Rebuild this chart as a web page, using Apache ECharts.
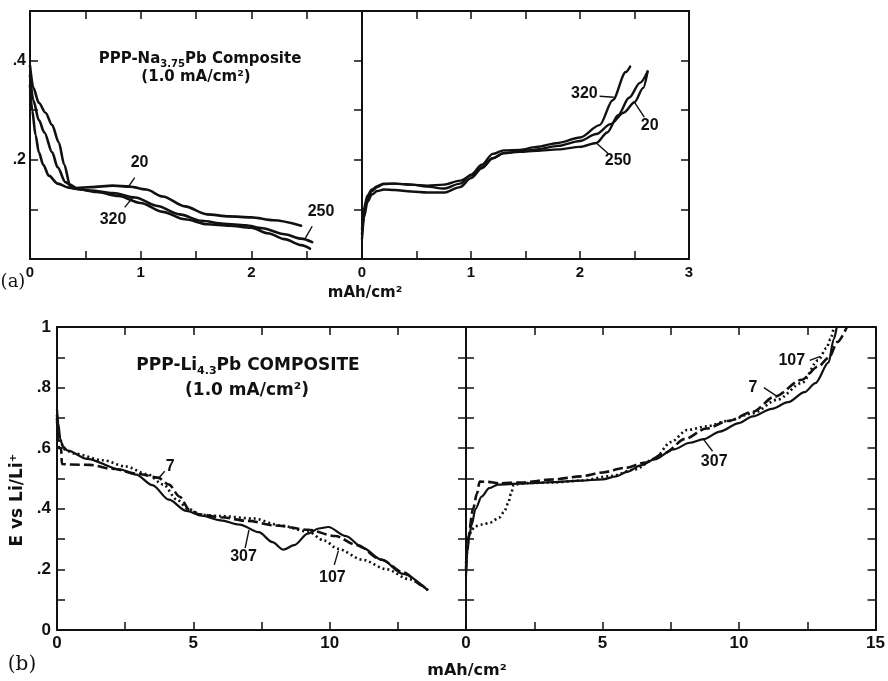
<!DOCTYPE html>
<html><head><meta charset="utf-8">
<script src="https://cdn.jsdelivr.net/npm/echarts/dist/echarts.min.js"></script>
<style>html,body{margin:0;padding:0;background:#fff}#c{width:888px;height:681px}</style>
</head><body><div id="c"></div>
<script>
// ---------- (a) PPP-Na3.75Pb : discharge (left half) ----------
const aDisX20  = [0, 0.03, 0.08, 0.14, 0.2, 0.26, 0.31, 0.36, 0.42, 0.55, 0.75, 0.9, 1.05, 1.2, 1.4, 1.6, 1.8, 2.0, 2.2, 2.45];
const aDisY20  = [0.39, 0.345, 0.315, 0.295, 0.27, 0.235, 0.19, 0.15, 0.143, 0.145, 0.148, 0.146, 0.14, 0.126, 0.106, 0.09, 0.086, 0.084, 0.078, 0.067];
const aDisX250 = [0, 0.03, 0.08, 0.13, 0.2, 0.25, 0.32, 0.4, 0.55, 0.75, 0.95, 1.15, 1.35, 1.55, 1.75, 1.95, 2.1, 2.3, 2.45, 2.55];
const aDisY250 = [0.37, 0.32, 0.28, 0.255, 0.215, 0.185, 0.155, 0.142, 0.138, 0.133, 0.124, 0.107, 0.09, 0.077, 0.071, 0.068, 0.062, 0.05, 0.041, 0.034];
const aDisX320 = [0, 0.02, 0.05, 0.08, 0.12, 0.17, 0.25, 0.35, 0.45, 0.6, 0.8, 1.0, 1.2, 1.4, 1.6, 1.8, 2.0, 2.15, 2.3, 2.45, 2.53];
const aDisY320 = [0.35, 0.3, 0.25, 0.215, 0.19, 0.168, 0.152, 0.144, 0.14, 0.135, 0.127, 0.113, 0.095, 0.08, 0.07, 0.067, 0.063, 0.052, 0.04, 0.028, 0.021];
// ---------- (a) charge (right half) ----------
const aChgX20  = [0, 0.02, 0.05, 0.09, 0.14, 0.2, 0.3, 0.45, 0.6, 0.75, 0.9, 1.0, 1.1, 1.2, 1.3, 1.45, 1.6, 1.8, 2.0, 2.15, 2.28, 2.4, 2.5, 2.58, 2.62];
const aChgY20  = [0.05, 0.095, 0.122, 0.137, 0.145, 0.151, 0.152, 0.15, 0.148, 0.15, 0.158, 0.168, 0.185, 0.203, 0.213, 0.217, 0.221, 0.228, 0.238, 0.252, 0.272, 0.295, 0.316, 0.345, 0.378];
const aChgX250 = [0, 0.02, 0.05, 0.09, 0.14, 0.2, 0.3, 0.45, 0.6, 0.75, 0.9, 1.0, 1.1, 1.2, 1.3, 1.45, 1.6, 1.8, 2.0, 2.15, 2.25, 2.35, 2.45, 2.55, 2.62];
const aChgY250 = [0.04, 0.085, 0.115, 0.13, 0.137, 0.14, 0.139, 0.136, 0.134, 0.134, 0.145, 0.163, 0.183, 0.203, 0.214, 0.216, 0.218, 0.221, 0.226, 0.234, 0.255, 0.29, 0.325, 0.355, 0.378];
const aChgX320 = [0, 0.02, 0.05, 0.09, 0.14, 0.2, 0.3, 0.45, 0.6, 0.75, 0.9, 1.0, 1.1, 1.2, 1.3, 1.45, 1.6, 1.8, 2.0, 2.18, 2.3, 2.42, 2.46];
const aChgY320 = [0.06, 0.105, 0.128, 0.14, 0.147, 0.152, 0.152, 0.15, 0.146, 0.142, 0.152, 0.17, 0.19, 0.212, 0.219, 0.22, 0.226, 0.234, 0.245, 0.27, 0.32, 0.377, 0.388];

// ---------- (b) PPP-Li4.3Pb : discharge ----------
const bDisX7   = [0, 0.04, 0.08, 0.15, 0.18, 0.5, 1.2, 2.0, 3.0, 3.7, 4.1, 4.5, 4.85, 5.2, 6.0, 7.0, 8.0, 9.2, 10.2, 11.0, 11.9, 12.7, 13.45, 13.6];
const bDisY7   = [0.7, 0.63, 0.6, 0.6, 0.548, 0.546, 0.545, 0.532, 0.515, 0.503, 0.48, 0.44, 0.397, 0.382, 0.372, 0.36, 0.345, 0.331, 0.31, 0.28, 0.232, 0.19, 0.145, 0.13];
const bDisX307 = [0, 0.05, 0.12, 0.22, 0.4, 1.1, 2.3, 2.9, 3.5, 4.1, 4.75, 5.3, 6.0, 6.7, 7.4, 7.9, 8.3, 8.7, 9.2, 9.6, 9.95, 10.6, 11.2, 11.9, 12.7, 13.55];
const bDisY307 = [0.73, 0.68, 0.63, 0.605, 0.592, 0.565, 0.53, 0.513, 0.478, 0.43, 0.393, 0.377, 0.362, 0.348, 0.323, 0.29, 0.265, 0.28, 0.318, 0.335, 0.34, 0.31, 0.272, 0.232, 0.185, 0.135];
const bDisX107 = [0, 0.05, 0.12, 0.3, 0.6, 1.7, 2.5, 3.3, 3.9, 4.4, 4.8, 5.3, 6.0, 7.2, 8.2, 9.2, 9.8, 10.3, 11.2, 12.1, 12.9, 13.6];
const bDisY107 = [0.71, 0.66, 0.62, 0.595, 0.583, 0.56, 0.54, 0.515, 0.48, 0.43, 0.4, 0.38, 0.376, 0.368, 0.345, 0.325, 0.295, 0.268, 0.232, 0.2, 0.168, 0.132];
// ---------- (b) charge ----------
const bChgX7   = [0, 0.07, 0.26, 0.4, 0.5, 0.8, 1.2, 2.0, 3.2, 4.2, 5.0, 5.8, 6.6, 7.3, 8.0, 8.8, 9.6, 10.5, 11.3, 12.3, 12.9, 13.3, 13.6, 13.95];
const bChgY7   = [0.2, 0.3, 0.4, 0.45, 0.49, 0.489, 0.484, 0.487, 0.497, 0.507, 0.52, 0.535, 0.553, 0.585, 0.63, 0.665, 0.69, 0.72, 0.77, 0.826, 0.87, 0.9, 0.95, 1.0];
const bChgX307 = [0, 0.05, 0.12, 0.2, 0.35, 0.57, 0.85, 1.17, 2.0, 3.2, 4.2, 5.0, 5.5, 5.9, 6.4, 6.9, 7.6, 8.2, 8.7, 9.3, 10.0, 10.5, 11.2, 11.8, 12.4, 12.8, 13.28, 13.47, 13.58];
const bChgY307 = [0.18, 0.26, 0.31, 0.345, 0.4, 0.44, 0.468, 0.48, 0.483, 0.488, 0.493, 0.497, 0.507, 0.522, 0.543, 0.563, 0.596, 0.618, 0.63, 0.655, 0.683, 0.705, 0.73, 0.752, 0.785, 0.815, 0.883, 0.96, 1.0];
const bChgX107 = [0, 0.05, 0.12, 0.2, 0.33, 0.6, 0.9, 1.2, 1.4, 1.55, 1.65, 1.75, 2.2, 3.2, 4.2, 5.3, 6.2, 6.9, 7.5, 8.1, 8.8, 9.6, 10.5, 11.4, 12.3, 12.9, 13.2, 13.35, 13.47];
const bChgY107 = [0.22, 0.28, 0.31, 0.33, 0.342, 0.348, 0.355, 0.37, 0.39, 0.42, 0.45, 0.48, 0.485, 0.487, 0.493, 0.508, 0.53, 0.565, 0.62, 0.66, 0.672, 0.69, 0.715, 0.76, 0.815, 0.89, 0.93, 0.96, 1.0];

// ---------- cycle-number annotations (data units) ----------
const aDisLabels = [['20', 0.99, 0.194], ['320', 0.75, 0.08], ['250', 2.63, 0.096]];
const aDisLeaders = [[[0.946, 0.164], [0.89, 0.146]], [[0.856, 0.104], [0.928, 0.124]], [[2.55, 0.066], [2.48, 0.039]]];
const aChgLabels = [['320', 2.04, 0.334], ['20', 2.64, 0.268], ['250', 2.35, 0.198]];
const aChgLeaders = [[[2.18, 0.328], [2.31, 0.326]], [[2.59, 0.286], [2.5, 0.316]], [[2.26, 0.212], [2.15, 0.234]]];
const bDisLabels = [['7', 4.15, 0.54], ['307', 6.84, 0.242], ['107', 10.1, 0.172]];
const bDisLeaders = [[[3.95, 0.524], [3.72, 0.5]], [[6.9, 0.27], [7.04, 0.33]], [[10.17, 0.215], [10.32, 0.262]]];
const bChgLabels = [['107', 11.93, 0.89], ['7', 10.51, 0.8], ['307', 9.09, 0.556]];
const bChgLeaders = [[[12.59, 0.89], [12.98, 0.903]], [[10.91, 0.8], [11.38, 0.772]], [[9.03, 0.59], [8.7, 0.629]]];

// ---------- tick labels ----------
const aYTickLabels = {2: '.2', 4: '.4'};
const bYTickLabels = {0: '0', 2: '.2', 4: '.4', 6: '.6', 8: '.8', 10: '1'};

// ====================================================================
const INK = '#111111';
const NUM = '"Liberation Sans", Arial, Helvetica, sans-serif';
const TTL = '"DejaVu Sans", "Liberation Sans", sans-serif';
const SERIF = '"DejaVu Serif", "Liberation Serif", serif';
const zip = (xs, ys) => xs.map((x, i) => [x, ys[i]]);

const grids = [
  {left: 30,  top: 11,  width: 332, height: 248},
  {left: 362, top: 11,  width: 327, height: 248},
  {left: 57,  top: 327, width: 409, height: 303},
  {left: 466, top: 327, width: 412, height: 303}
];

function xPair(gi, max, interval, fmt, fs, margin) {
  const common = {type: 'value', gridIndex: gi, min: 0, max: max, interval: interval,
    axisLine: {show: true, onZero: false, lineStyle: {color: INK, width: 2}},
    axisTick: {show: true, inside: true, length: 8, lineStyle: {color: INK, width: 1.5}},
    splitLine: {show: false}};
  return [
    Object.assign({}, common, {position: 'bottom',
      axisLabel: {show: true, formatter: fmt, color: INK, fontFamily: NUM, fontWeight: 'bold', fontSize: fs, margin: margin}}),
    Object.assign({}, common, {position: 'top', axisLabel: {show: false}})
  ];
}
function yPair(gi, max, fmt, fs, margin, leftTicks, rightTicks) {
  const common = {type: 'value', gridIndex: gi, min: 0, max: max, interval: 0.1,
    axisLine: {show: true, onZero: false, lineStyle: {color: INK, width: 2}},
    splitLine: {show: false}};
  return [
    Object.assign({}, common, {position: 'left',
      axisTick: {show: leftTicks, inside: true, length: 8, lineStyle: {color: INK, width: 1.5}},
      axisLabel: fmt ? {show: true, formatter: fmt, color: INK, fontFamily: NUM, fontWeight: 'bold', fontSize: fs, margin: margin} : {show: false}}),
    Object.assign({}, common, {position: 'right',
      axisTick: {show: rightTicks, inside: true, length: 8, lineStyle: {color: INK, width: 1.5}},
      axisLabel: {show: false}})
  ];
}
const tenth = v => Math.round(v * 10);
const aY = v => aYTickLabels[tenth(v)] || '';
const bY = v => bYTickLabels[tenth(v)] || '';
const intUnder = lim => v => (Math.abs(v - Math.round(v)) < 1e-6 && v < lim - 1e-6) ? String(Math.round(v)) : '';
const fiveUnder = lim => v => (Math.abs(v / 5 - Math.round(v / 5)) < 1e-6 && v < lim - 1e-6) ? String(Math.round(v)) : '';

const xAxis = [].concat(
  xPair(0, 3, 0.5, intUnder(3), 15, 6),
  xPair(1, 3, 0.5, intUnder(4), 15, 6),
  xPair(2, 15, 2.5, fiveUnder(15), 17, 5),
  xPair(3, 15, 2.5, fiveUnder(16), 17, 5)
);
const yAxis = [].concat(
  yPair(0, 0.5, aY, 16, 4, true, true),
  yPair(1, 0.5, null, 16, 4, false, true),
  yPair(2, 1, bY, 17, 6, true, true),
  yPair(3, 1, null, 17, 6, true, true)
);

function curve(gi, xs, ys, dash, width) {
  return {type: 'line', xAxisIndex: 2 * gi, yAxisIndex: 2 * gi, data: zip(xs, ys),
    symbol: 'none', showSymbol: false, smooth: 0.3, smoothMonotone: 'x', clip: true,
    lineStyle: {color: INK, width: width, type: dash, cap: dash === 'solid' ? 'round' : 'butt'},
    animation: false, silent: true, z: 3};
}
function leaders(gi, segs) {
  return {type: 'lines', coordinateSystem: 'cartesian2d', xAxisIndex: 2 * gi, yAxisIndex: 2 * gi,
    data: segs.map(s => ({coords: s})), symbol: 'none',
    lineStyle: {color: INK, width: 1.4, opacity: 1, curveness: 0}, animation: false, silent: true, z: 4};
}
function labels(gi, arr) {
  return {type: 'scatter', xAxisIndex: 2 * gi, yAxisIndex: 2 * gi,
    data: arr.map(a => ({name: a[0], value: [a[1], a[2]]})),
    symbolSize: 0.1, itemStyle: {color: INK, opacity: 1},
    label: {show: true, position: 'inside', formatter: '{b}', color: INK, opacity: 1,
      textBorderWidth: 0, fontFamily: NUM, fontWeight: 'bold', fontSize: 16},
    animation: false, silent: true, z: 5};
}

const DASH = [10, 4], DOT = [2, 3];
const series = [
  curve(0, aDisX20, aDisY20, 'solid', 2.6),
  curve(0, aDisX250, aDisY250, 'solid', 2.6),
  curve(0, aDisX320, aDisY320, 'solid', 2.6),
  curve(1, aChgX20, aChgY20, 'solid', 2.4),
  curve(1, aChgX250, aChgY250, 'solid', 2.4),
  curve(1, aChgX320, aChgY320, 'solid', 2.4),
  curve(2, bDisX7, bDisY7, DASH, 2.6),
  curve(2, bDisX307, bDisY307, 'solid', 2.2),
  curve(2, bDisX107, bDisY107, DOT, 2.6),
  curve(3, bChgX7, bChgY7, DASH, 2.6),
  curve(3, bChgX307, bChgY307, 'solid', 2.2),
  curve(3, bChgX107, bChgY107, DOT, 2.6),
  leaders(0, aDisLeaders), labels(0, aDisLabels),
  leaders(1, aChgLeaders), labels(1, aChgLabels),
  leaders(2, bDisLeaders), labels(2, bDisLabels),
  leaders(3, bChgLeaders), labels(3, bChgLabels)
];

function txt(x, y, text, size, opts) {
  return Object.assign({type: 'text', x: x, y: y, silent: true, z: 10,
    style: Object.assign({text: text, fill: INK, fontFamily: TTL, fontWeight: 'bold', fontSize: size,
      align: 'center', verticalAlign: 'middle'}, opts && opts.style || {})},
    opts && opts.el || {});
}
const graphic = [
  txt(200, 59, 'PPP-Na{sub|3.75}Pb Composite', 15, {style: {lineHeight: 20,
    rich: {sub: {fontSize: 10, fontFamily: TTL, fontWeight: 'bold', fill: INK, lineHeight: 10, verticalAlign: 'bottom'}}}}),
  txt(196, 77, '(1.0 mA/cm²)', 15),
  txt(248, 366, 'PPP-Li{sub|4.3}Pb COMPOSITE', 17, {style: {lineHeight: 22,
    rich: {sub: {fontSize: 11, fontFamily: TTL, fontWeight: 'bold', fill: INK, lineHeight: 11, verticalAlign: 'bottom'}}}}),
  txt(247, 391, '(1.0 mA/cm²)', 17),
  txt(365, 293, 'mAh/cm²', 15),
  txt(467, 671, 'mAh/cm²', 16),
  txt(18, 500, 'E vs Li/Li⁺', 17, {el: {rotation: Math.PI / 2}}),
  txt(13, 282, '(a)', 18, {style: {fontFamily: SERIF, fontWeight: 'normal'}}),
  txt(22, 665, '(b)', 20, {style: {fontFamily: SERIF, fontWeight: 'normal'}})
];

const chart = echarts.init(document.getElementById('c'), null, {renderer: 'canvas'});
chart.setOption({animation: false, backgroundColor: '#fff', grid: grids, xAxis: xAxis, yAxis: yAxis, series: series, graphic: graphic});
</script></body></html>
